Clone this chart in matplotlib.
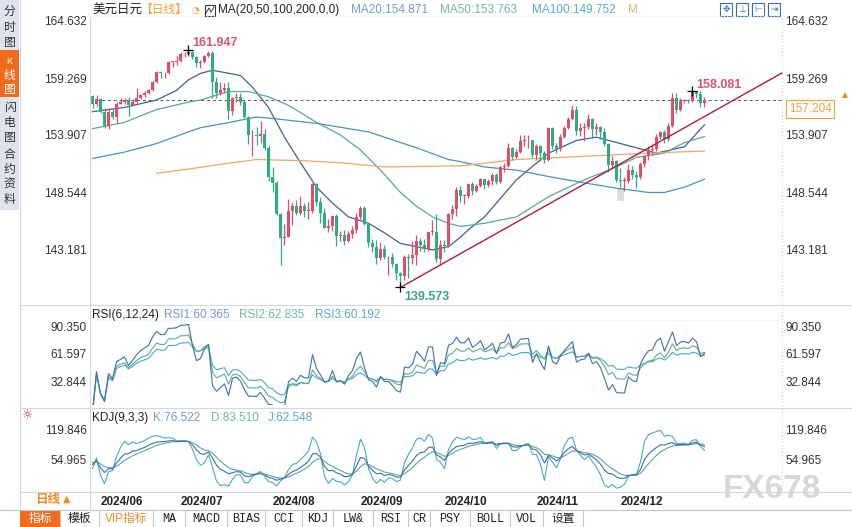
import numpy as np
import pandas as pd
import matplotlib
matplotlib.use("Agg")
import matplotlib.pyplot as plt
from matplotlib.lines import Line2D
from matplotlib.patches import Rectangle

plt.rcParams['font.family'] = ['Liberation Sans', 'Noto Sans CJK SC', 'DejaVu Sans']

W, H = 852, 527

# ---- data (USD/JPY daily) ----
dates = pd.bdate_range('2024-05-30', '2024-12-31')
first_open = 157.6
closes = [
    156.8, 157.3,
    156.1, 154.8, 156.1, 155.6, 156.8, 157.0, 157.2, 156.7, 157.0, 157.4,
    157.7, 157.9, 158.1, 158.9, 159.8, 159.7, 159.7, 160.8, 160.8, 160.9,
    161.5, 161.5, 161.7, 161.2, 160.7, 160.8, 161.3, 161.6, 158.9, 157.9,
    158.1, 158.3, 156.2, 157.4, 157.5, 157.0, 155.6, 153.9, 153.9, 153.8,
    154.0, 152.7, 150.0,
    149.4, 146.5, 144.2, 144.3, 146.8, 147.2, 146.6, 147.2, 146.8, 146.8,
    149.3, 147.6, 146.6, 145.2, 145.3, 146.3, 144.4, 144.5, 143.9, 144.6,
    145.0, 146.2,
    147.0, 145.5, 143.7, 143.4, 142.3, 143.2, 142.4, 142.4, 141.8, 140.9,
    140.6, 142.4, 142.3, 142.6, 143.9, 143.6, 143.2, 144.8, 144.8, 142.2,
    143.6,
    143.5, 146.5, 146.9, 148.7, 148.2, 148.2, 149.3, 148.6, 149.1, 149.8,
    149.2, 149.6, 150.1, 149.5, 150.9, 151.0, 152.7, 151.8, 152.3, 153.3,
    153.4, 153.4, 152.0,
    152.9, 152.2, 151.6, 154.6, 152.9, 152.6, 153.7, 154.6, 155.4, 156.3,
    154.3, 154.6, 154.7, 155.4, 154.5, 154.7, 154.2, 153.1, 151.1, 151.5,
    149.7,
    149.6, 149.6, 150.6, 150.1, 150.0, 151.2, 151.9, 152.5, 152.6, 153.7,
    154.2, 153.5, 154.8, 157.4, 156.3, 157.1, 157.2, 157.1, 158.0, 157.8,
    156.9, 157.204,
]
highs = [
    157.7, 157.7,
    157.4, 156.4, 156.4, 156.4, 157.0, 157.4, 157.4, 157.5, 157.3, 158.3,
    157.8, 158.0, 158.2, 159.0, 159.9, 159.9, 159.8, 160.9, 160.9, 161.3,
    161.7, 161.7, 161.947, 161.8, 161.3, 161.0, 161.4, 161.8, 161.8, 159.4,
    158.9, 158.8, 158.9, 157.5, 157.9, 157.9, 157.2, 155.7, 154.4, 154.7,
    155.2, 154.5, 153.0,
    150.9, 149.6, 146.6, 145.5, 147.9, 147.6, 147.8, 148.2, 147.5, 147.6,
    149.4, 149.4, 148.1, 147.0, 146.0, 146.4, 146.5, 144.9, 145.0, 144.9,
    145.3, 146.6,
    147.2, 147.2, 145.6, 144.1, 144.0, 143.8, 143.6, 142.5, 142.8, 141.9,
    141.0, 142.6, 142.7, 143.9, 144.5, 144.2, 144.1, 144.8, 145.9, 146.5,
    144.0,
    144.0, 146.6, 147.3, 149.0, 149.1, 148.4, 149.4, 149.5, 149.3, 149.9,
    149.8, 149.8, 150.3, 150.3, 151.0, 151.3, 153.2, 152.8, 152.6, 153.9,
    153.9, 153.9, 153.4,
    153.1, 153.0, 152.4, 154.7, 154.7, 153.2, 154.0, 154.8, 155.6, 156.75,
    156.6, 155.0, 155.0, 155.9, 155.5, 155.0, 154.8, 154.6, 153.2, 151.9,
    151.6,
    150.8, 150.0, 151.2, 151.0, 150.5, 151.4, 152.0, 152.9, 153.1, 154.0,
    154.3, 154.4, 155.0, 157.9, 157.9, 157.4, 157.3, 157.3, 158.081, 158.05,
    158.0, 157.5,
]
lows = [
    156.4, 156.6,
    156.0, 154.6, 154.5, 155.4, 155.0, 156.8, 156.8, 155.7, 156.6, 156.9,
    157.3, 157.5, 157.8, 158.0, 158.8, 159.3, 159.3, 159.6, 160.3, 160.5,
    160.8, 161.2, 161.3, 161.1, 160.3, 160.2, 160.7, 161.2, 157.4, 157.4,
    157.7, 157.9, 155.4, 155.8, 157.0, 156.7, 155.5, 153.1, 151.9, 153.0,
    153.2, 152.5, 149.6,
    148.5, 146.4, 141.7, 143.6, 144.3, 145.4, 146.4, 146.4, 146.2, 146.0,
    146.6, 147.2, 145.6, 145.2, 144.8, 144.9, 143.5, 143.9, 143.6, 143.8,
    144.2, 144.7,
    145.9, 145.4, 143.4, 142.9, 141.8, 142.1, 142.2, 140.7, 141.5, 140.3,
    139.573, 140.3, 140.5, 141.8, 141.7, 143.0, 142.9, 143.0, 144.5, 142.0,
    141.7,
    142.9, 143.4, 146.0, 146.3, 147.6, 147.4, 148.0, 148.3, 148.5, 149.0,
    148.8, 149.0, 149.2, 149.3, 149.4, 150.4, 150.9, 151.6, 151.7, 152.2,
    152.9, 152.7, 151.7,
    151.6, 151.5, 151.3, 151.5, 152.6, 152.2, 152.4, 153.6, 154.5, 155.3,
    153.9, 153.8, 153.3, 154.5, 153.6, 153.9, 153.5, 152.9, 150.4, 150.8,
    149.5,
    149.0, 148.65, 149.4, 149.8, 148.9, 149.8, 150.9, 151.6, 152.0, 152.4,
    153.5, 153.2, 153.3, 154.7, 156.0, 156.2, 156.9, 156.9, 157.0, 157.4,
    156.5, 156.5,
]

# moving averages as drawn on the chart (bar index, value)
ma20_idx = [0, 8, 16, 21, 24, 27, 30, 37, 40, 44, 48, 52, 56, 60, 64, 69, 73, 77,
            81, 85, 89, 92, 94, 98, 106, 114, 121, 126, 131, 138, 141, 148, 153]
ma20_val = [156.1, 156.5, 157.2, 158.1, 159.1, 159.7, 160.0, 159.5, 158.4, 156.5,
            153.7, 151.3, 149.0, 147.5, 146.2, 145.6, 144.7, 143.7, 143.4, 143.1,
            143.4, 144.3, 145.0, 146.2, 149.7, 152.2, 153.4, 153.7, 153.2, 152.5,
            152.2, 152.8, 154.871]
ma50_idx = [0, 8, 16, 24, 27, 34, 39, 44, 49, 56, 62, 67, 72, 77, 81, 85, 89, 92,
            98, 106, 114, 123, 131, 136, 143, 148, 153]
ma50_val = [154.5, 155.1, 156.3, 157.0, 157.2, 158.0, 158.0, 157.5, 156.7, 155.1,
            153.9, 152.5, 150.6, 148.5, 147.2, 146.2, 145.6, 145.3, 145.6, 146.2,
            148.1, 149.7, 150.9, 151.8, 152.2, 153.2, 153.763]
ma100_idx = [0, 8, 16, 24, 27, 33, 41, 44, 56, 69, 81, 89, 92, 98, 106, 114, 123,
             131, 139, 143, 148, 153]
ma100_val = [151.7, 152.3, 153.1, 154.2, 154.6, 155.0, 155.6, 155.5, 155.0, 154.2,
             152.7, 151.6, 151.4, 150.9, 150.6, 150.0, 149.4, 148.9, 148.5, 148.5,
             149.0, 149.752]
ma200_idx = [16, 24, 33, 41, 52, 62, 73, 92, 106, 123, 139, 153]
ma200_val = [150.3, 150.7, 151.2, 151.6, 151.5, 151.3, 150.9, 151.0, 151.6, 151.9,
             152.2, 152.4]

trend_idx = [77, 172.4]
trend_val = [139.573, 159.75]
gap_idx, gap_lo, gap_hi = 132, 147.7, 148.9

price_ticks = [164.632, 159.269, 153.907, 148.544, 143.181]
rsi_ticks = [90.350, 61.597, 32.844]
kdj_ticks = [119.846, 54.965]

ma_labels = ['MA20:154.871', 'MA50:153.763', 'MA100:149.752']
rsi_labels = ['RSI1:60.365', 'RSI2:62.835', 'RSI3:60.192']
kdj_labels = ['K:76.522', 'D:83.510', 'J:62.548']
tabs = ['指标', '模板', 'VIP指标', 'MA', 'MACD', 'BIAS', 'CCI', 'KDJ', 'LW&',
        'RSI', 'CR', 'PSY', 'BOLL', 'VOL', '设置']

UP, DOWN = '#de4e69', '#2fab86'
C20, C50, C100, C200 = '#3d5f9e', '#5aa898', '#4a93bf', '#eea66a'
TXT20, TXT50, TXT100 = '#6f9bd8', '#6cbaa5', '#57aad2'
CR1, CR2, CR3 = '#3f6fae', '#63ad88', '#4aa8c8'
ORANGE = '#f08a24'

# ---- derived series ----
c = pd.Series(closes, dtype=float)
h = pd.Series(highs, dtype=float)
l = pd.Series(lows, dtype=float)
o = pd.Series([first_open] + closes[:-1], dtype=float)
x = np.arange(len(c))

diff = c - o.values
up_move = diff.clip(lower=0)
def rsi(n):
    return up_move.ewm(alpha=1 / n).mean() / diff.abs().ewm(alpha=1 / n).mean() * 100
rsi1, rsi2, rsi3 = rsi(6), rsi(12), rsi(24)

llv = l.rolling(9, min_periods=1).min()
hhv = h.rolling(9, min_periods=1).max()
rsv = (c - llv) / (hhv - llv) * 100
k_vals, d_vals = [], []
kk, dd = 50.0, 50.0
for v in rsv:
    kk = (2 * kk + v) / 3
    dd = (2 * dd + kk) / 3
    k_vals.append(kk)
    d_vals.append(dd)
k_line = np.array(k_vals)
d_line = np.array(d_vals)
j_line = 3 * k_line - 2 * d_line

# ---- figure helpers ----
fig = plt.figure(figsize=(W / 100, H / 100), dpi=100)
fig.patch.set_facecolor('white')

def fx(px):
    return px / W

def fy(py):
    return 1 - py / H

def px_axes(x0, y0, x1, y1):
    a = fig.add_axes([fx(x0), fy(y1), (x1 - x0) / W, (y1 - y0) / H])
    a.set_facecolor('none')
    for s in a.spines.values():
        s.set_visible(False)
    return a

def hline(y, x0, x1, color='#d6d6d6', lw=0.8, ls='-'):
    fig.add_artist(Line2D([fx(x0), fx(x1)], [fy(y), fy(y)], color=color, lw=lw, ls=ls))

def vline(xp, y0, y1, color='#d6d6d6', lw=0.8, ls='-'):
    fig.add_artist(Line2D([fx(xp), fx(xp)], [fy(y0), fy(y1)], color=color, lw=lw, ls=ls))

def ftext(xp, yp, s, **kw):
    kw.setdefault('va', 'center')
    kw.setdefault('ha', 'left')
    kw.setdefault('fontsize', 8.5)
    fig.text(fx(xp), fy(yp), s, **kw)

def y_labels(a, ticks):
    a.set_yticks(ticks)
    a.set_yticklabels([f'{t:.3f}' for t in ticks])
    a.tick_params(axis='y', length=0, labelleft=True, labelright=True, pad=2.5,
                  labelsize=8.5, labelcolor='#333333')

XLIM = (-0.625, 172.375)

# ---- main candle panel ----
ax = px_axes(90, 18, 782, 305)
ax.set_xlim(*XLIM)
ax.set_ylim(137.913, 164.914)

up = c >= o
body_lo = np.minimum(o, c)
body_h = np.maximum((c - o).abs(), 0.04)
colors = np.where(up, UP, DOWN)
ax.vlines(x, l, h, colors=colors, lw=0.9, zorder=3)
ax.bar(x, body_h, bottom=body_lo, width=0.72, color=colors, lw=0, zorder=4)
ax.bar(gap_idx, gap_hi - gap_lo, bottom=gap_lo, width=1.8, color='#dcdcdc', lw=0, zorder=1)

ax.plot(ma20_idx, ma20_val, color=C20, lw=0.9, zorder=2)
ax.plot(ma50_idx, ma50_val, color=C50, lw=0.9, zorder=2)
ax.plot(ma100_idx, ma100_val, color=C100, lw=0.9, zorder=2)
ax.plot(ma200_idx, ma200_val, color=C200, lw=0.9, zorder=2)
ax.plot(trend_idx, trend_val, color='#a8203c', lw=1.0, zorder=5, clip_on=False)

last = closes[-1]
ax.axhline(last, color='#555555', lw=0.7, ls=(0, (3, 3)), zorder=1)

hi_i = int(np.argmax(highs))
lo_i = int(np.argmin(lows))
dec_i = 100 + int(np.argmax(highs[100:]))
for i, val, col, dy in [(hi_i, highs[hi_i], '#d9546e', 5),
                        (lo_i, lows[lo_i], '#3aa57f', -7),
                        (dec_i, highs[dec_i], '#d9546e', 4)]:
    ax.plot(i, val, marker='+', color='black', ms=7, mew=0.9, zorder=6)
    ax.annotate(f'{val:.3f}', (i, val), xytext=(3, dy), textcoords='offset points',
                color=col, fontsize=9, fontweight='bold', va='center', ha='left')

ax.set_xticks([])
y_labels(ax, price_ticks)

ax.annotate(f'{last:.3f}', xy=(1, last), xycoords=('axes fraction', 'data'),
            xytext=(5, -6.5), textcoords='offset points', color='#f0a040', fontsize=8.5,
            va='center', ha='left',
            bbox=dict(boxstyle='square,pad=0.22', fc='white', ec='#f0a040', lw=0.8))
ftext(845, 95, '▲', color=ORANGE, fontsize=5.5, ha='center', family='DejaVu Sans')

# ---- RSI panel ----
ar = px_axes(90, 308, 782, 405)
ar.set_xlim(*XLIM)
ar.set_ylim(7.6, 110.1)
ar.plot(x, rsi3, color=CR3, lw=0.8)
ar.plot(x, rsi2, color=CR2, lw=0.8)
ar.plot(x, rsi1, color=CR1, lw=0.8)
ar.set_xticks([])
y_labels(ar, rsi_ticks)

# ---- KDJ panel ----
ak = px_axes(90, 410, 782, 493)
ak.set_xlim(*XLIM)
ak.set_ylim(-17.9, 161.6)
ak.plot(x, j_line, color='#4aa8c8', lw=0.8)
ak.plot(x, d_line, color='#5aa898', lw=0.8)
ak.plot(x, k_line, color='#3d6fa8', lw=0.8)
y_labels(ak, kdj_ticks)
month_pos = [i for i in range(1, len(dates)) if dates[i].month != dates[i - 1].month]
ak.set_xticks(month_pos)
ak.set_xticklabels([dates[i].strftime('%Y/%m') for i in month_pos], ha='left',
                   fontweight='bold', fontsize=8.5, color='#222222')
ak.tick_params(axis='x', length=0, pad=2)

# ---- frame lines ----
hline(305, 20, W)
hline(408, 20, W)
hline(492, 20, W)
hline(509.5, 0, W, color='#c8c8c8')
vline(90, 18, 509)
vline(20, 0, 509)
vline(782, 18, 492, color='#cfcfcf', ls=(0, (1, 2)))
hline(16, 90, 782, color='#e4e4e4', ls=(0, (1, 2)))
hline(320, 90, 782, color='#e4e4e4', ls=(0, (1, 2)))

# ---- headers ----
ftext(92, 10, '美元日元', color='#222222', fontsize=9)
ftext(140, 10, '【日线】', color='#f0a030', fontsize=8.5)
ftext(191, 10.5, '◔', color='#f0a030', fontsize=6.5, family='DejaVu Sans')
fig.add_artist(Rectangle((fx(205), fy(16)), 10 / W, 11 / H, fill=False, ec='#333355', lw=0.8))
fig.add_artist(Line2D([fx(206), fx(209), fx(211), fx(214)], [fy(13), fy(8), fy(12), fy(7)],
                      color='#333355', lw=0.7))
ftext(218, 10, 'MA(20,50,100,200,0,0)', color='#222222', fontsize=8.5)
for xp, s, col in zip([351, 440, 532], ma_labels, [TXT20, TXT50, TXT100]):
    ftext(xp, 10, s, color=col, fontsize=8.5)
ftext(628, 10, 'M', color='#f0b070', fontsize=8.5)
for xp, g in zip([720, 736, 752, 768], ['✥', '⊥', '⊢', '⇥']):
    fig.add_artist(Rectangle((fx(xp), fy(16)), 12 / W, 13 / H, fill=False, ec='#3a70b0', lw=0.8))
    ftext(xp + 6, 9.5, g, color='#3a70b0', fontsize=6.5, ha='center', family='DejaVu Sans')

ftext(92, 315, 'RSI(6,12,24)', color='#222222', fontsize=8.5)
for xp, s, col in zip([164, 239, 315], rsi_labels, [TXT20, TXT50, TXT100]):
    ftext(xp, 315, s, color=col, fontsize=8.5)
ftext(92, 418, 'KDJ(9,3,3)', color='#222222', fontsize=8.5)
for xp, s, col in zip([153, 211, 268], kdj_labels, [TXT20, TXT50, TXT100]):
    ftext(xp, 418, s, color=col, fontsize=8.5)
ftext(28, 416, '☼', color='#d03030', fontsize=9, ha='center', family='DejaVu Sans')

# ---- left side bar ----
fig.add_artist(Rectangle((0, fy(210)), fx(19), 210 / H, color='#dfe3ef', lw=0))
fig.add_artist(Rectangle((0, fy(97)), fx(19), 47 / H, color='#f26b1d', lw=0))
for chars, ys, col in [('分时图', [12, 28, 43], '#333333'),
                       ('K线图', [61, 76, 90], 'white'),
                       ('闪电图', [108, 123, 138], '#333333'),
                       ('合约资料', [155, 170, 185, 200], '#333333')]:
    for ch, yp in zip(chars, ys):
        ftext(9.5, yp, ch, color=col, fontsize=8.5 if ch != 'K' else 6.5, ha='center')
ftext(35, 500, '日线', color=ORANGE, fontsize=9, fontweight='bold')
ftext(63, 499, '▲', color=ORANGE, fontsize=7, family='DejaVu Sans')

# ---- bottom tabs ----
edges = [20, 60, 99, 153, 185, 227, 265, 302, 333, 373, 408, 430, 470, 510, 543, 583]
fig.add_artist(Rectangle((fx(20), 0), 40 / W, 17.5 / H, color='#f26b1d', lw=0))
for i, lab in enumerate(tabs):
    xm = (edges[i] + edges[i + 1]) / 2
    col = 'white' if i == 0 else (ORANGE if lab == 'VIP指标' else '#222222')
    kw = dict(color=col, fontsize=8.5, ha='center')
    if lab.isascii():
        kw['family'] = ['Liberation Mono', 'Noto Sans CJK SC']
    ftext(xm, 519, lab, **kw)
    vline(edges[i + 1], 510, H, color='#c8c8c8')

# ---- watermark ----
ftext(772, 490, 'FX678', color='#d8d8d8', fontsize=24, ha='center', fontweight='bold')

fig.savefig('out.png', dpi=100)
